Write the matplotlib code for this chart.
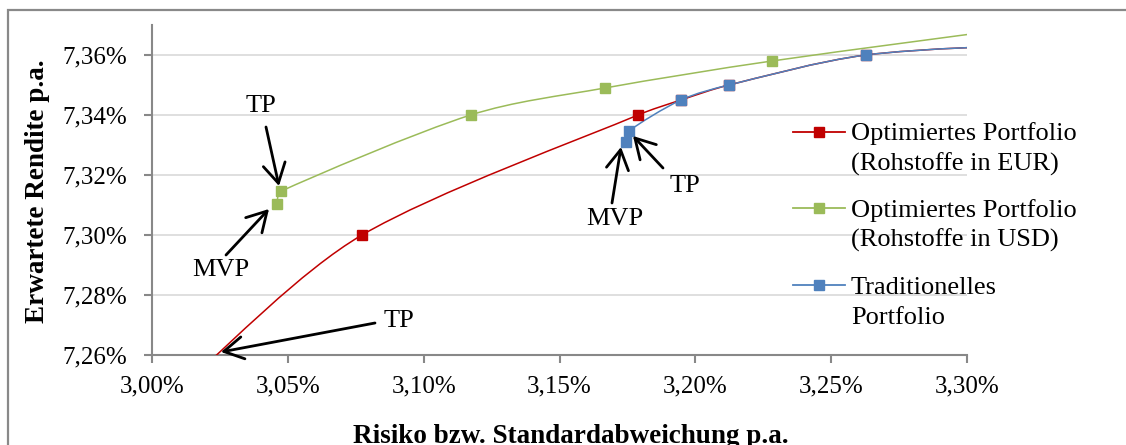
import numpy as np
import matplotlib
matplotlib.use("Agg")
import matplotlib.pyplot as plt
from matplotlib.path import Path
from matplotlib.patches import PathPatch, Rectangle
from matplotlib.lines import Line2D
from matplotlib.ticker import FuncFormatter, MultipleLocator

# ---- data (percent) ----
red_x = [3.0170, 3.0773, 3.1789, 3.1947, 3.2124, 3.2628, 3.3306]
red_y = [7.2545, 7.3000, 7.3400, 7.3450, 7.3500, 7.3600, 7.3637]
green_x = [3.0459, 3.0475, 3.1173, 3.1667, 3.2282, 3.3306]
green_y = [7.3103, 7.3146, 7.3400, 7.3490, 7.3580, 7.3705]
blue_x = [3.1745, 3.1756, 3.1947, 3.2124, 3.2628, 3.3306]
blue_y = [7.3310, 7.3347, 7.3450, 7.3500, 7.3600, 7.3637]

series_labels = ["Optimiertes Portfolio\n(Rohstoffe in EUR)",
                 "Optimiertes Portfolio\n(Rohstoffe in USD)",
                 "Traditionelles\nPortfolio"]
colors = ["#C00000", "#9BBB59", "#4F81BD"]

x_label = "Risiko bzw. Standardabweichung p.a."
y_label = "Erwartete Rendite p.a."

# annotations: (text, text pos, arrow tail, arrow head) in data coords
W, H = 1126, 445
def px2d(px, py):
    return (3.00 + (px - 152) / 815 * 0.30, 7.26 + (355 - py) / 3000)

annots = [
    ("TP", px2d(261, 106), px2d(266, 127), px2d(279, 186)),
    ("MVP", px2d(221, 270), px2d(226, 255), px2d(269, 209)),
    ("TP", px2d(399, 321), px2d(375, 323), px2d(221, 352)),
    ("MVP", px2d(615, 219), px2d(612, 203), px2d(621, 147)),
    ("TP", px2d(685, 186), px2d(663, 168), px2d(633, 136)),
]

plt.rcParams['font.family'] = ['Liberation Serif', 'DejaVu Serif']

fig = plt.figure(figsize=(W / 100, H / 100), dpi=100)
ax = fig.add_axes([152 / W, 1 - 355 / H, 815 / W, 330 / H])

SX, SY = 815 / 0.30, 3000.0  # data -> pixel scale, for handle clamping

def smooth_path(xs, ys):
    pts = np.column_stack([xs, ys]).astype(float)
    sc = np.array([SX, SY])
    verts = [pts[0]]
    codes = [Path.MOVETO]
    n = len(pts)
    for i in range(n - 1):
        p0 = pts[i - 1] if i > 0 else pts[i]
        p1 = pts[i]
        p2 = pts[i + 1]
        p3 = pts[i + 2] if i + 2 < n else pts[i + 1]
        chord = np.linalg.norm((p2 - p1) * sc)
        h1 = (p2 - p0) / 6.0
        h2 = (p3 - p1) / 6.0
        for h in (h1, h2):
            L = np.linalg.norm(h * sc)
            if L > chord / 3 and L > 0:
                h *= (chord / 3) / L
        verts += [p1 + h1, p2 - h2, p2]
        codes += [Path.CURVE4] * 3
    return Path(verts, codes)

for xs, ys, c in [(red_x, red_y, colors[0]), (green_x, green_y, colors[1]),
                  (blue_x, blue_y, colors[2])]:
    patch = PathPatch(smooth_path(xs, ys), facecolor='none', edgecolor=c,
                      lw=1.1, zorder=3)
    ax.add_patch(patch)
    ax.plot(xs, ys, 's', color=c, ms=7.2, mec=c, zorder=4)

ax.set_xlim(3.00, 3.30)
ax.set_ylim(7.26, 7.37)
ax.xaxis.set_major_locator(MultipleLocator(0.05))
ax.yaxis.set_major_locator(MultipleLocator(0.02))
ax.xaxis.set_major_formatter(FuncFormatter(lambda v, p: f"{v:.2f}%".replace('.', ',')))
ax.yaxis.set_major_formatter(FuncFormatter(
    lambda v, p: f"{v:.2f}%".replace('.', ',') if v < 7.365 else ""))
ax.grid(axis='y', color='#D9D9D9', lw=1.2, zorder=0)
ax.set_axisbelow(True)
for s in ['top', 'right']:
    ax.spines[s].set_visible(False)
for s in ['left', 'bottom']:
    ax.spines[s].set_color('#888888')
    ax.spines[s].set_linewidth(1.5)
ax.tick_params(axis='both', direction='out', length=6, width=1.5, color='#888888',
               labelsize=18)
ax.tick_params(axis='x', pad=9)
ax.tick_params(axis='y', pad=12)

for txt, tpos, tail, head in annots:
    ax.annotate('', xy=head, xytext=tail,
                arrowprops=dict(arrowstyle='->,head_length=0.7,head_width=0.4',
                                color='black', lw=2.0, shrinkA=0, shrinkB=0,
                                mutation_scale=20), zorder=5, annotation_clip=False)
    ax.text(tpos[0], tpos[1], txt, ha='center', va='center', fontsize=19, zorder=6)

# axis titles
fig.text(571 / W, 1 - 443 / H, x_label, ha='center', va='baseline',
         fontsize=19.5, fontweight='bold')
fig.text(38 / W, 1 - 191 / H, y_label, ha='center', va='center', rotation=90,
         fontsize=19.5, fontweight='bold')

# legend (manual)
leg_handle_y = [131.5, 208, 285]
for lab, c, hy in zip(series_labels, colors, leg_handle_y):
    fig.add_artist(Line2D([793 / W, 845 / W], [1 - hy / H, 1 - hy / H],
                          color=c, lw=1.3, transform=fig.transFigure))
    fig.add_artist(Line2D([819 / W], [1 - hy / H], marker='s', ms=7.2, color=c,
                          transform=fig.transFigure))
    lines = lab.split('\n')
    for k, line in enumerate(lines):
        base = hy + 8.5 + 30.5 * k
        fig.text(851 / W, 1 - base / H, line, ha='left', va='baseline', fontsize=19)

# outer chart border
fig.add_artist(Rectangle((8 / W, -0.1), 1.2, 1 - 10 / H + 0.1, fill=False,
                         edgecolor='#898989', lw=1.6, transform=fig.transFigure))

fig.savefig('out.png', dpi=100)
